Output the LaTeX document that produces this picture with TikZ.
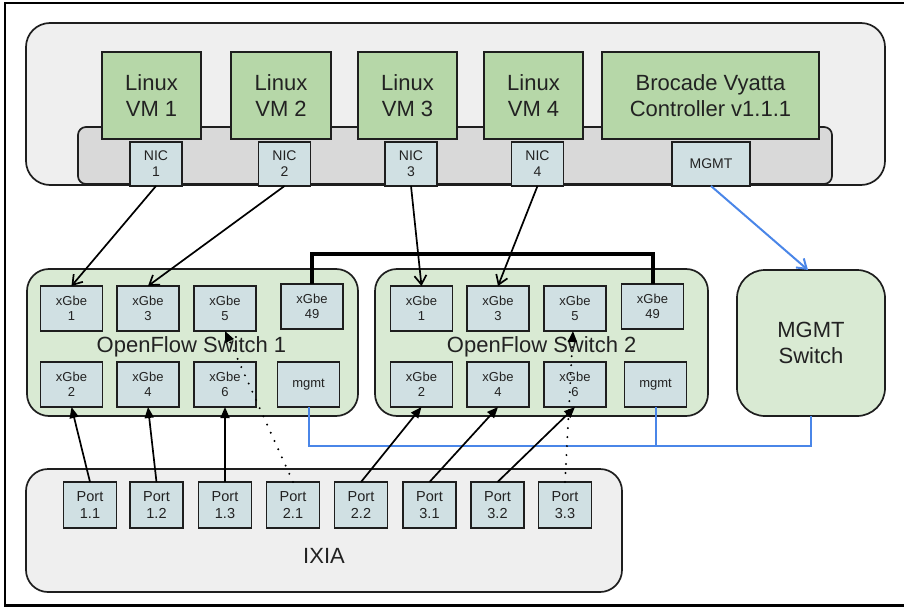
\documentclass[tikz,border=0pt]{standalone}
\usepackage{fontspec}
\setmainfont{Liberation Sans}
\usetikzlibrary{arrows.meta}
\definecolor{edge}{HTML}{1E1E1E}
\definecolor{ink}{HTML}{222222}
\definecolor{hostgray}{HTML}{EFEFEF}
\definecolor{bargray}{HTML}{D9D9D9}
\definecolor{vmgreen}{HTML}{B6D7A8}
\definecolor{swgreen}{HTML}{D9EAD3}
\definecolor{portcyan}{HTML}{D0E0E3}
\definecolor{mgmtblue}{HTML}{4A86E8}
\tikzset{
  box/.style={draw=edge, line width=1.7pt, inner sep=0pt, outer sep=0pt, align=center, text=ink},
  hostbox/.style={box, fill=hostgray, rounded corners=24pt},
  barbox/.style={box, fill=bargray, rounded corners=8pt},
  vmbox/.style={box, fill=vmgreen, minimum height=87pt, font=\fontsize{22}{26}\selectfont},
  nicbox/.style={box, fill=portcyan, minimum height=44pt, font=\fontsize{14}{16}\selectfont},
  swbox/.style={box, fill=swgreen, rounded corners=22pt, minimum height=147pt},
  swlabel/.style={inner sep=0pt, text=ink, font=\fontsize{22}{26}\selectfont},
  xgbe/.style={box, fill=portcyan, minimum width=62pt, minimum height=45pt, font=\fontsize{13}{15.5}\selectfont},
  ixport/.style={box, fill=portcyan, minimum width=53pt, minimum height=46pt, font=\fontsize{14.5}{16.5}\selectfont},
  uplink/.style={draw=black, line width=1.7pt, -{Straight Barb[length=9pt,width=12pt]}},
  feed/.style={draw=black, line width=1.7pt, -{Triangle[length=11pt,width=9pt]}},
  feeddots/.style={draw=black, line width=2.2pt, line cap=round, dash pattern=on 0pt off 9pt, -{Triangle[length=11pt,width=9pt]}},
  mgmtline/.style={draw=mgmtblue, line width=2pt},
  trunk/.style={draw=black, line width=4pt}
}
\begin{document}
\begin{tikzpicture}[x=1pt,y=-1pt]
\useasboundingbox (0,0) rectangle (904,607);

% outer frame
\draw[line width=2.2pt] (912,3) -- (5,3) -- (5,605.5) -- (912,605.5);

% server host with its VMs and NICs
\node[hostbox, minimum width=859pt, minimum height=162pt] (host) at (455.5,104) {};
\node[barbox, minimum width=754pt, minimum height=57pt] (bar) at (455,155.5) {};
\node[vmbox, minimum width=99pt]  (vm1) at (151.5,95.5) {Linux\\VM 1};
\node[vmbox, minimum width=100pt] (vm2) at (281,95.5) {Linux\\VM 2};
\node[vmbox, minimum width=99pt]  (vm3) at (407.5,95.5) {Linux\\VM 3};
\node[vmbox, minimum width=99pt]  (vm4) at (533.5,95.5) {Linux\\VM 4};
\node[vmbox, minimum width=217pt] (bvc) at (710.5,95.5) {Brocade Vyatta\\Controller v1.1.1};
\node[nicbox, minimum width=52pt] (nic1) at (156,164) {NIC\\1};
\node[nicbox, minimum width=52pt] (nic2) at (284.5,164) {NIC\\2};
\node[nicbox, minimum width=52pt] (nic3) at (411,164) {NIC\\3};
\node[nicbox, minimum width=52pt] (nic4) at (537.5,164) {NIC\\4};
\node[nicbox, minimum width=78pt] (mgmt) at (711,164) {MGMT};

% OpenFlow switch 1
\node[swbox, minimum width=331pt] (sw1) at (192.5,342.5) {};
\node[swlabel, anchor=base] (sw1lbl) at (191.5,352) {OpenFlow Switch 1};
\node[xgbe] (s1p1)  at (71.5,308.5) {xGbe\\1};
\node[xgbe] (s1p3)  at (148,308.5) {xGbe\\3};
\node[xgbe] (s1p5)  at (225,308.5) {xGbe\\5};
\node[xgbe] (s1p49) at (312,306.5) {xGbe\\49};
\node[xgbe] (s1p2)  at (71.5,384.5) {xGbe\\2};
\node[xgbe] (s1p4)  at (148,384.5) {xGbe\\4};
\node[xgbe] (s1p6)  at (225,384.5) {xGbe\\6};
\node[xgbe] (s1m)   at (308.5,384.5) {mgmt};

% OpenFlow switch 2
\node[swbox, minimum width=333pt] (sw2) at (541.5,342.5) {};
\node[swlabel, anchor=base] (sw2lbl) at (541.7,352) {OpenFlow Switch 2};
\node[xgbe] (s2p1)  at (421.5,308.5) {xGbe\\1};
\node[xgbe] (s2p3)  at (498,308.5) {xGbe\\3};
\node[xgbe] (s2p5)  at (575,308.5) {xGbe\\5};
\node[xgbe] (s2p49) at (652.5,306.5) {xGbe\\49};
\node[xgbe] (s2p2)  at (421.5,384.5) {xGbe\\2};
\node[xgbe] (s2p4)  at (498,384.5) {xGbe\\4};
\node[xgbe] (s2p6)  at (575,384.5) {xGbe\\6};
\node[xgbe] (s2m)   at (655.5,384.5) {mgmt};

% management switch
\node[box, fill=swgreen, rounded corners=28pt, minimum width=148pt, minimum height=146pt,
      font=\fontsize{22}{26}\selectfont] (msw) at (811,343) {MGMT\\Switch};

% traffic generator
\node[hostbox, rounded corners=22pt, minimum width=596pt, minimum height=123pt] (ixia) at (324,530.5) {};
\node[swlabel] (ixialbl) at (324,556) {IXIA};
\node[ixport] (p11) at (90,505) {Port\\1.1};
\node[ixport] (p12) at (156.5,505) {Port\\1.2};
\node[ixport] (p13) at (225,505) {Port\\1.3};
\node[ixport] (p21) at (293,505) {Port\\2.1};
\node[ixport] (p22) at (361,505) {Port\\2.2};
\node[ixport] (p31) at (429.5,505) {Port\\3.1};
\node[ixport] (p32) at (497.5,505) {Port\\3.2};
\node[ixport] (p33) at (565,505) {Port\\3.3};

% inter-switch trunk on port 49
\coordinate (trunktop) at (0,254);
\draw[trunk] (s1p49.north) -- (s1p49.north |- trunktop) -| (s2p49.north);

% management network
\coordinate (mgmtbus) at (0,446);
\draw[mgmtline] (s1m.south) -- (s1m.south |- mgmtbus) -| (msw.south);
\draw[mgmtline] (s2m.south) -- (s2m.south |- mgmtbus);
\draw[mgmtline, -{Straight Barb[length=9pt,width=12pt]}] (mgmt.south) -- ([xshift=-3pt]msw.north);

% VM NICs to switch ports
\draw[uplink] (nic1.south) -- (s1p1.north);
\draw[uplink] (nic2.south) -- (s1p3.north);
\draw[uplink] (nic3.south) -- (s2p1.north);
\draw[uplink] (nic4.south) -- (s2p3.north);

% IXIA ports to switch ports
\draw[feed] (p11.north) -- (s1p2.south);
\draw[feed] (p12.north) -- (s1p4.south);
\draw[feed] (p13.north) -- (s1p6.south);
\draw[feeddots] (p21.north) -- (s1p5.south);
\draw[feed] (p22.north) -- (s2p2.south);
\draw[feed] (p31.north) -- (s2p4.south);
\draw[feed] (p32.north) -- (s2p6.south);
\draw[feeddots] (p33.north) -- ([xshift=-2pt]s2p5.south);
\end{tikzpicture}
\end{document}
